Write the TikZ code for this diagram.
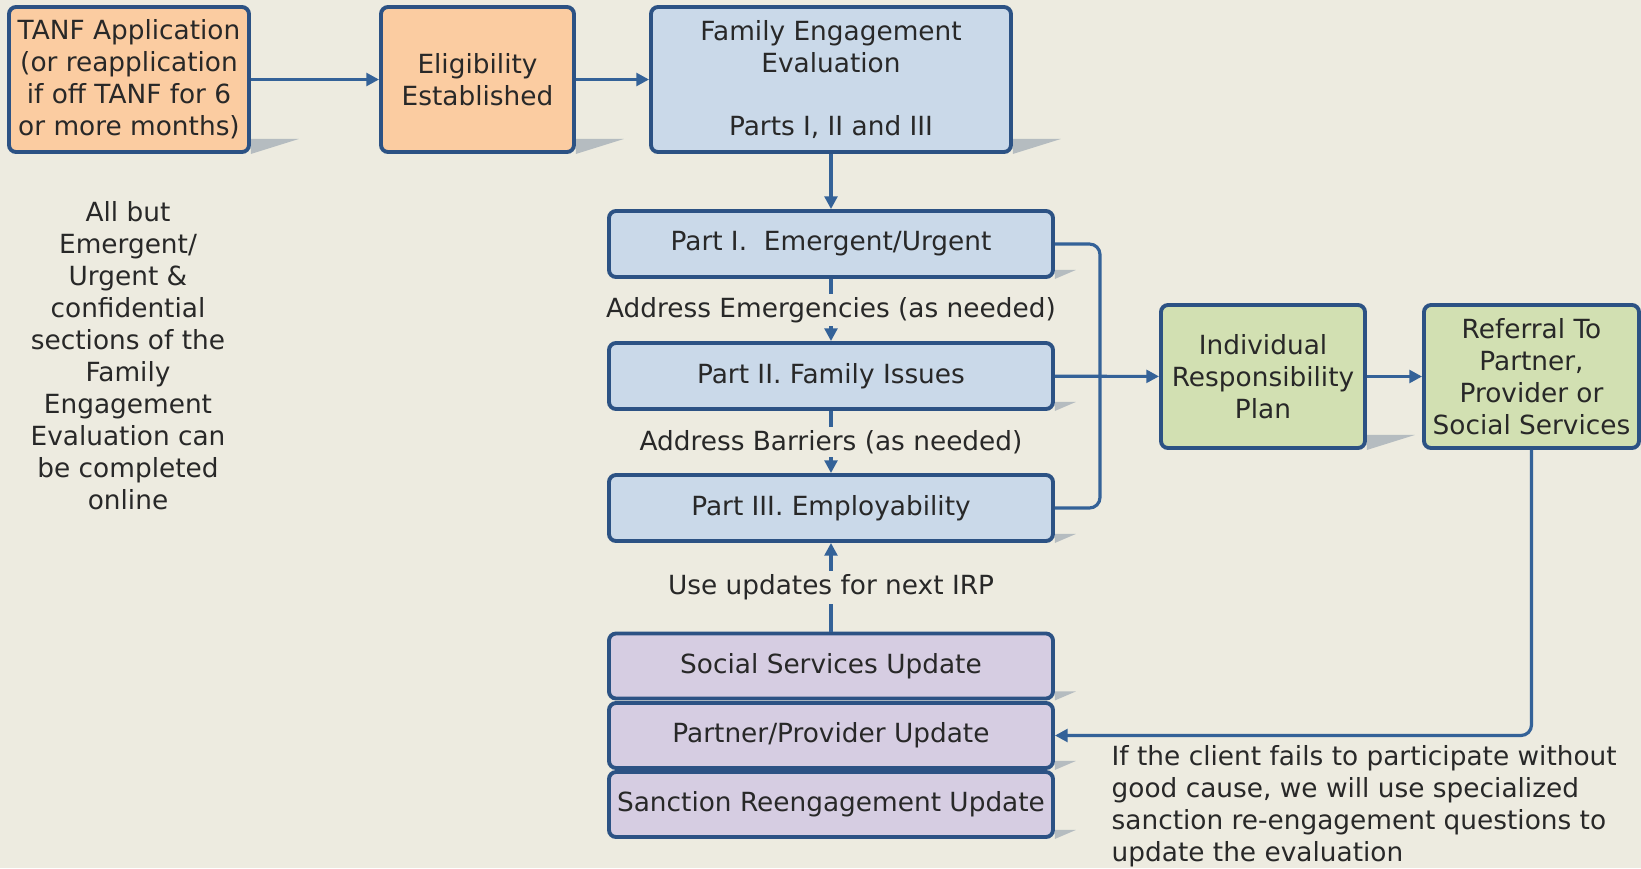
\documentclass[tikz,border=0pt]{standalone}
\usepackage{fontspec}
\setmainfont{DejaVu Sans}
\usepackage{xcolor}
\usetikzlibrary{arrows.meta,backgrounds}

\definecolor{pagebg}{RGB}{237,235,224}
\definecolor{boxline}{RGB}{44,82,132}
\definecolor{linkline}{RGB}{52,98,152}
\definecolor{appfill}{RGB}{251,204,161}
\definecolor{evalfill}{RGB}{202,217,233}
\definecolor{planfill}{RGB}{210,224,178}
\definecolor{updfill}{RGB}{214,205,226}
\definecolor{shadegrey}{RGB}{181,188,192}
\definecolor{txt}{RGB}{40,40,40}

\begin{document}
\begin{tikzpicture}[font=\fontsize{7.5}{9.1}\selectfont, text=txt,
  box/.style={draw=boxline, line width=1.1pt, rounded corners=2pt, align=center, inner sep=1pt},
  bigbox/.style={box, minimum height=1.45cm},
  partbox/.style={box, fill=evalfill, minimum width=4.44cm, minimum height=0.66cm},
  updbox/.style={box, fill=updfill, minimum width=4.44cm, minimum height=0.65cm},
  link/.style={draw=linkline, line width=0.9pt, -{Triangle[length=3.6pt,width=3.6pt]}},
  wire/.style={draw=linkline, line width=0.9pt},
  tag/.style={fill=pagebg, inner sep=1pt},
  boxshade/.style={fill=shadegrey}]

\useasboundingbox (0,0) rectangle (16.41,-8.68);

% Top row
\node[bigbox, fill=appfill, minimum width=2.40cm] (tanf) at (1.29,-0.795)
  {TANF Application\\(or reapplication\\if off TANF for 6\\or more months)};
\node[bigbox, fill=appfill, minimum width=1.93cm] (elig) at (4.775,-0.795)
  {Eligibility\\Established};
\node[bigbox, fill=evalfill, minimum width=3.60cm] (fee) at (8.31,-0.795)
  {Family Engagement\\Evaluation\\[9.1pt]Parts I, II and III};

% Evaluation parts
\node[partbox] (p1) at (8.31,-2.44) {Part I.~ Emergent/Urgent};
\node[partbox] (p2) at (8.31,-3.76) {Part II. Family Issues};
\node[partbox] (p3) at (8.31,-5.08) {Part III. Employability};

% Updates
\node[updbox] (soc)  at (8.31,-6.66)  {Social Services Update};
\node[updbox] (part) at (8.31,-7.355) {Partner/Provider Update};
\node[updbox] (sanc) at (8.31,-8.045) {Sanction Reengagement Update};

% Plan and referral
\node[box, fill=planfill, minimum width=2.04cm, minimum height=1.43cm] (irp) at (12.63,-3.765)
  {Individual\\Responsibility\\Plan};
\node[box, fill=planfill, minimum width=2.15cm, minimum height=1.43cm] (ref) at (15.315,-3.765)
  {Referral To\\Partner,\\Provider or\\Social Services};

% Notes
\node[align=center] (online) at (1.28,-3.555)
  {All but\\Emergent/\\Urgent \&\\confidential\\sections of the\\Family\\Engagement\\Evaluation can\\be completed\\online};
\node[align=left, anchor=west, inner sep=0pt] (fail) at (11.11,-8.06)
  {If the client fails to participate without\\good cause, we will use specialized\\sanction re-engagement questions to\\update the evaluation};

% Connectors
\draw[link] (tanf) -- (elig);
\draw[link] (elig) -- (fee);
\draw[link] (fee) -- (p1);
\draw[link] (p1) -- node[tag] {Address Emergencies (as needed)} (p2);
\draw[link] (p2) -- node[tag] {Address Barriers (as needed)} (p3);
\draw[link] (soc) -- node[tag] {Use updates for next IRP} (p3);

\coordinate (join) at (11.00,-3.76);
\draw[wire, rounded corners=3pt] (p1.east) -| (join) |- (p3.east);
\draw[link] (p2) -- (irp);
\draw[link] (irp) -- (ref);
\draw[link, rounded corners=3pt] (ref.south) |- (part.east);

% Page and shadows
\begin{scope}[on background layer]
\fill[pagebg] (0,0) rectangle (16.41,-8.68);
\foreach \b in {tanf,elig,fee,irp,ref}
  \fill[boxshade] ([yshift=0.15cm]\b.south east) -- ++(0.48,0) -- (\b.south east) -- cycle;
\foreach \b in {p1,p2,p3,soc,part,sanc}
  \fill[boxshade] ([yshift=0.09cm]\b.south east) -- ++(0.21,0) -- (\b.south east) -- cycle;
\end{scope}

\end{tikzpicture}
\end{document}
